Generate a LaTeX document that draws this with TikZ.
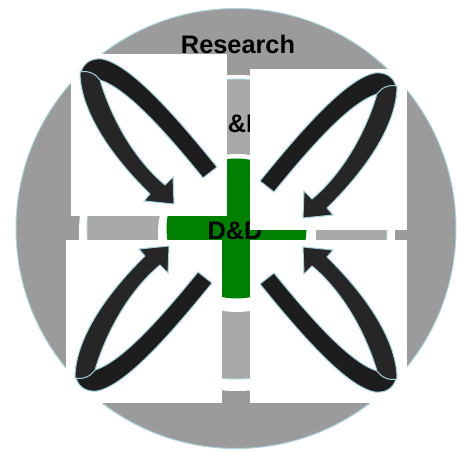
\documentclass[tikz,border=0pt]{standalone}
\usepackage{fontspec}
\setmainfont{Liberation Sans}

\tikzset{every picture/.style={line width=0.75pt}}
\tikzset{
  rim/.style={draw={rgb, 255:red, 168; green, 213; blue, 219 }},
  cover/.style={fill=white, draw=none},
  backband/.style={fill={rgb, 255:red, 29; green, 29; blue, 29 }, draw={rgb, 255:red, 160; green, 210; blue, 218 }, line width=0.75},
  frontband/.style={fill={rgb, 255:red, 38; green, 38; blue, 38 }, draw={rgb, 255:red, 160; green, 210; blue, 218 }, line width=0.75},
  ringtext/.style={anchor=base, inner sep=0pt, font=\fontsize{19}{21}\selectfont\bfseries}
}
% one looped arrow, drawn for the upper left corner
\newcommand{\loopribbon}{%
\draw [backband] (81,72) .. controls (84,62) and (92,58) .. (102,59) .. controls (130,64) and (175,115) .. (217,167) -- (203,178) .. controls (160,125) and (125,88) .. (100,80) .. controls (94,74) and (86,71) .. (81,72) -- cycle ;
\draw [frontband] (80,72) .. controls (80,110) and (110,155) .. (150,194) -- (144,201) -- (174,204) -- (173,177) -- (165,185) .. controls (135,160) and (112,120) .. (100,80) .. controls (96,74) and (88,70) .. (80,72) -- cycle ;
}

\begin{document}
\begin{tikzpicture}[x=0.75pt,y=0.75pt,yscale=-1,xscale=1]
\useasboundingbox (0,0) rectangle (457,452);

%Shape: Circle [outer ring]
\draw [rim, fill={rgb, 255:red, 155; green, 155; blue, 155 }] (236,228.5) circle (220) ;
\fill [white] (237,233) circle (158) ;
%Shape: Circle [middle ring]
\draw [rim, fill={rgb, 255:red, 169; green, 169; blue, 169 }] (237,229) circle (150) ;
\fill [white] (237,233) circle (79) ;
%Shape: Circle [core]
\fill [fill={rgb, 255:red, 0; green, 128; blue, 0 }] (236.5,228.5) circle (70) ;

% Text Node
\node [ringtext] (research) at (238,54) {Research};
% Text Node
\node [ringtext] (rnd) at (237,133) {R\&D};
% Text Node
\node [ringtext] (dnd) at (235,240) {D\&D};

%Shape: Rectangle [covers]
\fill [cover] (71,54) rectangle (227,216) ;
\fill [cover] (250,69) rectangle (407,230) ;
\fill [cover] (66,240) rectangle (222,403) ;
\fill [cover] (250,240) rectangle (407,403) ;

%Loop arrows
\loopribbon
\begin{scope}[shift={(477,14)}, xscale=-1]
\loopribbon
\end{scope}
\begin{scope}[shift={(-5,450)}, yscale=-1]
\loopribbon
\end{scope}
\begin{scope}[shift={(477,451)}, xscale=-1, yscale=-1]
\loopribbon
\end{scope}

\end{tikzpicture}
\end{document}
